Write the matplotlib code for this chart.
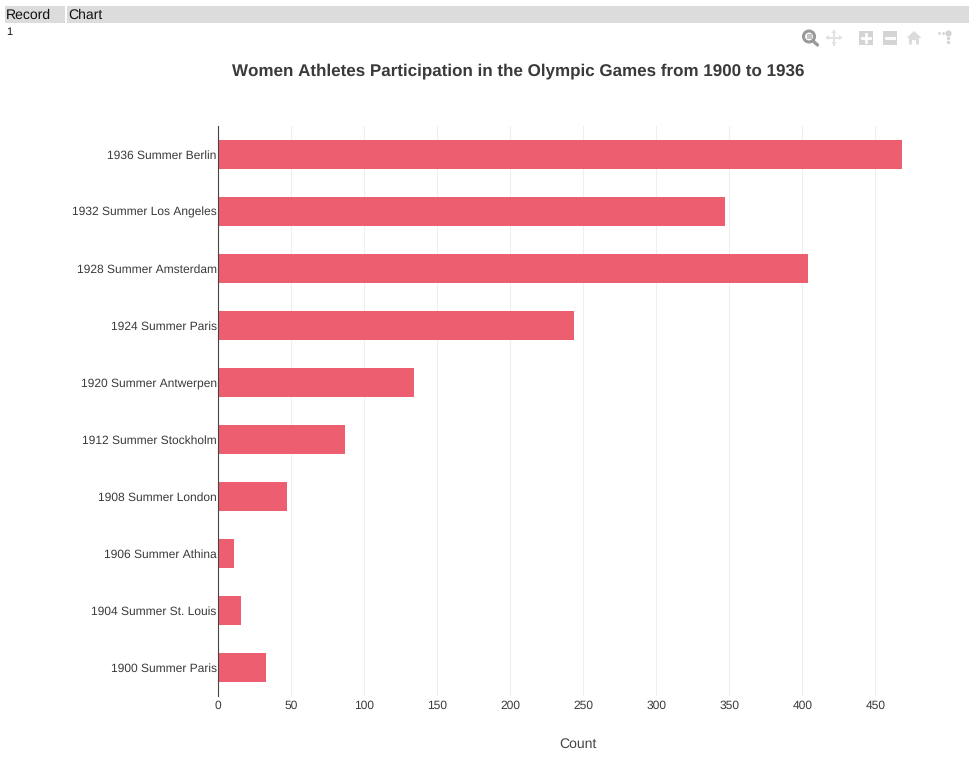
import matplotlib
matplotlib.use("Agg")
import matplotlib.pyplot as plt
from matplotlib.patches import Circle, Rectangle, Polygon

plt.rcParams['font.family'] = ['Liberation Sans', 'DejaVu Sans']
plt.rcParams['text.hinting'] = 'no_hinting'
plt.rcParams['text.hinting_factor'] = 1

games = ["1900 Summer Paris", "1904 Summer St. Louis", "1906 Summer Athina",
         "1908 Summer London", "1912 Summer Stockholm", "1920 Summer Antwerpen",
         "1924 Summer Paris", "1928 Summer Amsterdam", "1932 Summer Los Angeles",
         "1936 Summer Berlin"]
counts = [33, 16, 11, 47, 87, 134, 244, 404, 347, 468]
x_ticks = [0, 50, 100, 150, 200, 250, 300, 350, 400, 450]

W, H = 977, 763
fig = plt.figure(figsize=(W / 100, H / 100), dpi=100, facecolor="white")

# page overlay in pixel coordinates
page = fig.add_axes([0, 0, 1, 1], zorder=0)
page.set_xlim(0, W)
page.set_ylim(H, 0)
page.axis("off")
page.add_patch(Rectangle((5, 6), 60, 17, fc="#dcdcdc", ec="none"))
page.add_patch(Rectangle((67, 6), 902, 17, fc="#dcdcdc", ec="none"))
page.text(6, 15, "Record", fontsize=9.8, color="#111111", va="center", ha="left")
page.text(68.5, 15, "Chart", fontsize=9.8, color="#111111", va="center", ha="left")
page.text(6, 32.5, "1", fontsize=8, color="#111111", va="center", ha="left")

# toolbar icons
page.add_patch(Circle((809, 36.5), 5.5, fc="none", ec="#9a9a9a", lw=2.2))
page.add_patch(Rectangle((806.5, 34), 5, 5, fc="#c4c4c4", ec="none"))
page.plot([813, 817.5], [41, 45], color="#9a9a9a", lw=2.4, solid_capstyle="round")
mv = "#e2e2e2"
page.plot([827, 841], [37.5, 37.5], color=mv, lw=1.4)
page.plot([834, 834], [31, 45], color=mv, lw=1.4)
for pts in ([(825.5, 37.5), (829, 35), (829, 40)], [(842.5, 37.5), (839, 35), (839, 40)],
            [(834, 29.5), (831.5, 33), (836.5, 33)], [(834, 45.5), (831.5, 42), (836.5, 42)]):
    page.add_patch(Polygon(pts, fc=mv, ec="none"))
for x0 in (859, 883):
    page.add_patch(Rectangle((x0, 31), 14, 14, fc="#d4d4d4", ec="none"))
    page.plot([x0 + 3, x0 + 11], [38, 38], color="white", lw=2)
page.plot([866, 866], [34, 42], color="white", lw=2)
page.add_patch(Polygon([(906.5, 38), (914, 31), (921.5, 38), (919, 38), (919, 44.5),
                        (916, 44.5), (916, 40), (912, 40), (912, 44.5), (909, 44.5), (909, 38)],
                       fc="#dcdcdc", ec="none"))
for x, y, s in [(939, 33, 4), (943, 33, 4), (948, 33, 20), (948, 38, 6), (948, 42, 6)]:
    page.scatter([x], [y], s=s, color="#d4d4d4", marker="o", linewidths=0)

page.text(518, 71, "Women Athletes Participation in the Olympic Games from 1900 to 1936",
          fontsize=12.15, fontweight="bold", color="#3a3a3a", ha="center", va="center")

# chart
L, R, T, B = 218, 948.5, 126, 696
ax = fig.add_axes([L / W, 1 - B / H, (R - L) / W, (B - T) / H], zorder=1)
ax.patch.set_alpha(0)
ax.barh(games, counts, height=0.51, color="#ed5f70", zorder=2)
ax.set_xlim(0, 500)
ax.set_ylim(-0.5, len(games) - 0.5)
ax.set_xticks(x_ticks)
ax.xaxis.grid(True, color="#efefef", lw=0.8, zorder=0)
ax.set_axisbelow(True)
for s in ("top", "right", "bottom"):
    ax.spines[s].set_visible(False)
ax.spines["left"].set_color("#444444")
ax.spines["left"].set_linewidth(0.8)
ax.spines["left"].set_zorder(3)
ax.tick_params(axis="y", length=0, pad=1.0, labelsize=8.55, labelcolor="#3a3a3a")
ax.tick_params(axis="x", length=0, pad=3, labelsize=8.55, labelcolor="#3a3a3a")

page.text(578, 744, "Count", fontsize=10, color="#444444", ha="center", va="center")

fig.savefig("out.png", dpi=100, facecolor="white")
